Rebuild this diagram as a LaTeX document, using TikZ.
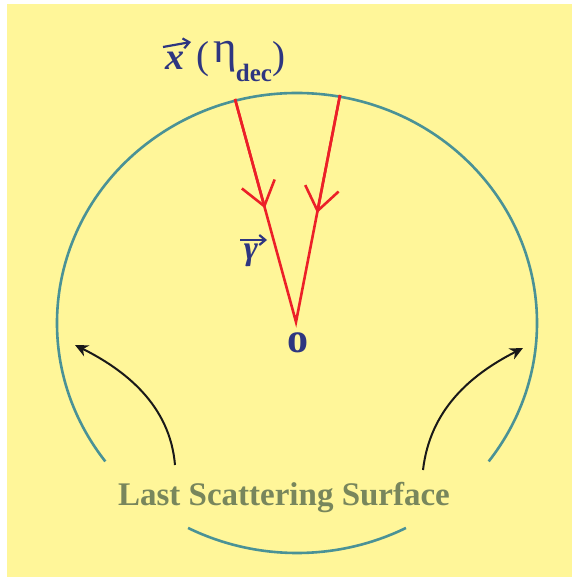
\documentclass[tikz,border=0pt]{standalone}
\usepackage{fontspec}
\setmainfont{Liberation Serif}
\usetikzlibrary{arrows.meta,calc}
\definecolor{bgyellow}{RGB}{255,246,153}
\definecolor{teal}{RGB}{74,146,150}
\definecolor{rayred}{RGB}{236,32,40}
\definecolor{navy}{RGB}{46,54,128}
\definecolor{olive}{RGB}{120,134,92}
\tikzset{
  surface/.style={draw=teal, line width=2.6pt},
  ray/.style={draw=rayred, line width=2.6pt},
  raytip/.style={ray, -{Straight Barb[length=23pt,width=34pt]}},
  pointer/.style={draw=black!90, line width=2pt, -{Stealth[length=13pt,width=12pt,inset=4pt]}},
  navytext/.style={text=navy, inner sep=0pt},
  vecarrow/.style={draw=navy, line width=2.2pt, -{Straight Barb[length=6pt,width=10pt]}}
}
\begin{document}
\begin{tikzpicture}[x=1pt,y=-1pt]
\useasboundingbox (0,0) rectangle (572,577);
\fill[white] (0,0) rectangle (572,577);
\fill[bgyellow] (7,4) rectangle (572,577);
% last scattering surface (ellipse arcs)
\draw[surface] (297,323) ++(143:240 and 230) arc[start angle=143, end angle=397, x radius=240, y radius=230];
\draw[surface] (297,323) ++(63:240 and 230) arc[start angle=63, end angle=117, x radius=240, y radius=230];
% observer
\coordinate (O) at (296,322);
\coordinate (L) at (235,99);
\coordinate (R) at (340,95);
\node[navytext, font=\bfseries\fontsize{42}{42}\selectfont, anchor=center] (o) at (297.5,343) {o};
% rays
\draw[ray] (L) -- (O) -- (R);
\draw[raytip] (L) -- ($(L)!0.49!(O)$);
\draw[raytip] (R) -- ($(R)!0.52!(O)$);
% labels
\node[navytext, font=\bfseries\itshape\fontsize{38}{38}\selectfont, anchor=base] (xv) at (175,70) {x};
\coordinate (xa) at (163,47);
\coordinate (xb) at (191,42);
\draw[vecarrow] (xa) -- (xb);
\node[navytext, font=\fontsize{39}{39}\selectfont, anchor=base] (lp) at (202.5,69) {(};
\node[navytext, font=\fontsize{45}{45}\selectfont, anchor=base] (eta) at (225,63) {η};
\node[navytext, font=\bfseries\fontsize{25}{25}\selectfont, anchor=base] (dec) at (254,82) {dec};
\node[navytext, font=\fontsize{39}{39}\selectfont, anchor=base] (rp) at (279,69) {)};
\node[navytext, font=\bfseries\itshape\fontsize{34}{34}\selectfont, anchor=base] (gam) at (251,259) {γ};
\coordinate (ga) at (240,240);
\coordinate (gb) at (267,240);
\draw[vecarrow] (ga) -- (gb);
\node[text=olive, inner sep=0pt, font=\bfseries\fontsize{33}{33}\selectfont, anchor=base] (lss) at (284,505) {Last Scattering Surface};
% pointers
\coordinate (pl0) at (175,465);
\coordinate (pl1) at (75,345);
\coordinate (pr0) at (423,470);
\coordinate (pr1) at (523,348);
\draw[pointer] (pl0) .. controls (170,405) and (125,370) .. (pl1);
\draw[pointer] (pr0) .. controls (430,410) and (470,375) .. (pr1);
\end{tikzpicture}
\end{document}
